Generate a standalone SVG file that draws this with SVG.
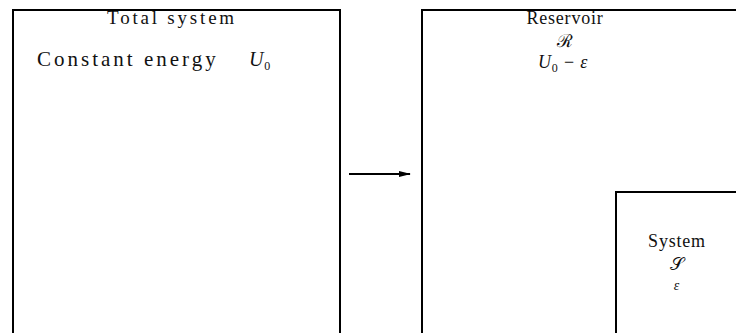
<svg xmlns="http://www.w3.org/2000/svg" width="736" height="333" viewBox="0 0 736 333">
<style>
.box{fill:none;stroke:#000;stroke-width:2}
.t{font-family:"Liberation Serif","DejaVu Serif",serif;font-size:18px;fill:#111;text-anchor:middle;letter-spacing:0.8px}
.w{font-size:19px;letter-spacing:2.8px}
.c{font-size:21px;letter-spacing:3px;text-anchor:start}
.i{font-style:italic}
.sub{font-size:12px}
.conn{stroke:#000;stroke-width:1.8;fill:none}
</style>
<defs>
<marker id="ah" markerWidth="12" markerHeight="8" refX="11" refY="4" orient="auto" markerUnits="userSpaceOnUse">
<path d="M0,1 L12,4 L0,7 Z" fill="#000"/>
</marker>
</defs>
<rect width="736" height="333" fill="#fff"/>
<g id="total-system">
<path class="box" d="M13,340 V10 H340 V340"/>
<text class="t w" x="172" y="24">Total system</text>
<text class="t c" x="37" y="66">Constant energy</text>
<text class="t" x="260" y="66" style="font-size:20px"><tspan class="i">U</tspan><tspan class="sub" dy="4">0</tspan></text>
</g>
<g id="reservoir">
<path class="box" d="M422,340 V10 H745"/>
<text class="t" x="565" y="24">Reservoir</text>
<text class="t" x="565" y="47">ℛ</text>
<text class="t" x="563" y="68"><tspan class="i">U</tspan><tspan class="sub" dy="4">0</tspan><tspan dy="-4"> − </tspan><tspan class="i">ε</tspan></text>
</g>
<g id="system">
<path class="box" d="M616,340 V192 H745"/>
<text class="t" x="677" y="247">System</text>
<text class="t" x="677" y="270">𝒮</text>
<text class="t i" x="677" y="290" style="font-size:14px">ε</text>
</g>
<g id="connectors">
<line class="conn" x1="349" y1="174" x2="410" y2="174" marker-end="url(#ah)"/>
</g>
</svg>
